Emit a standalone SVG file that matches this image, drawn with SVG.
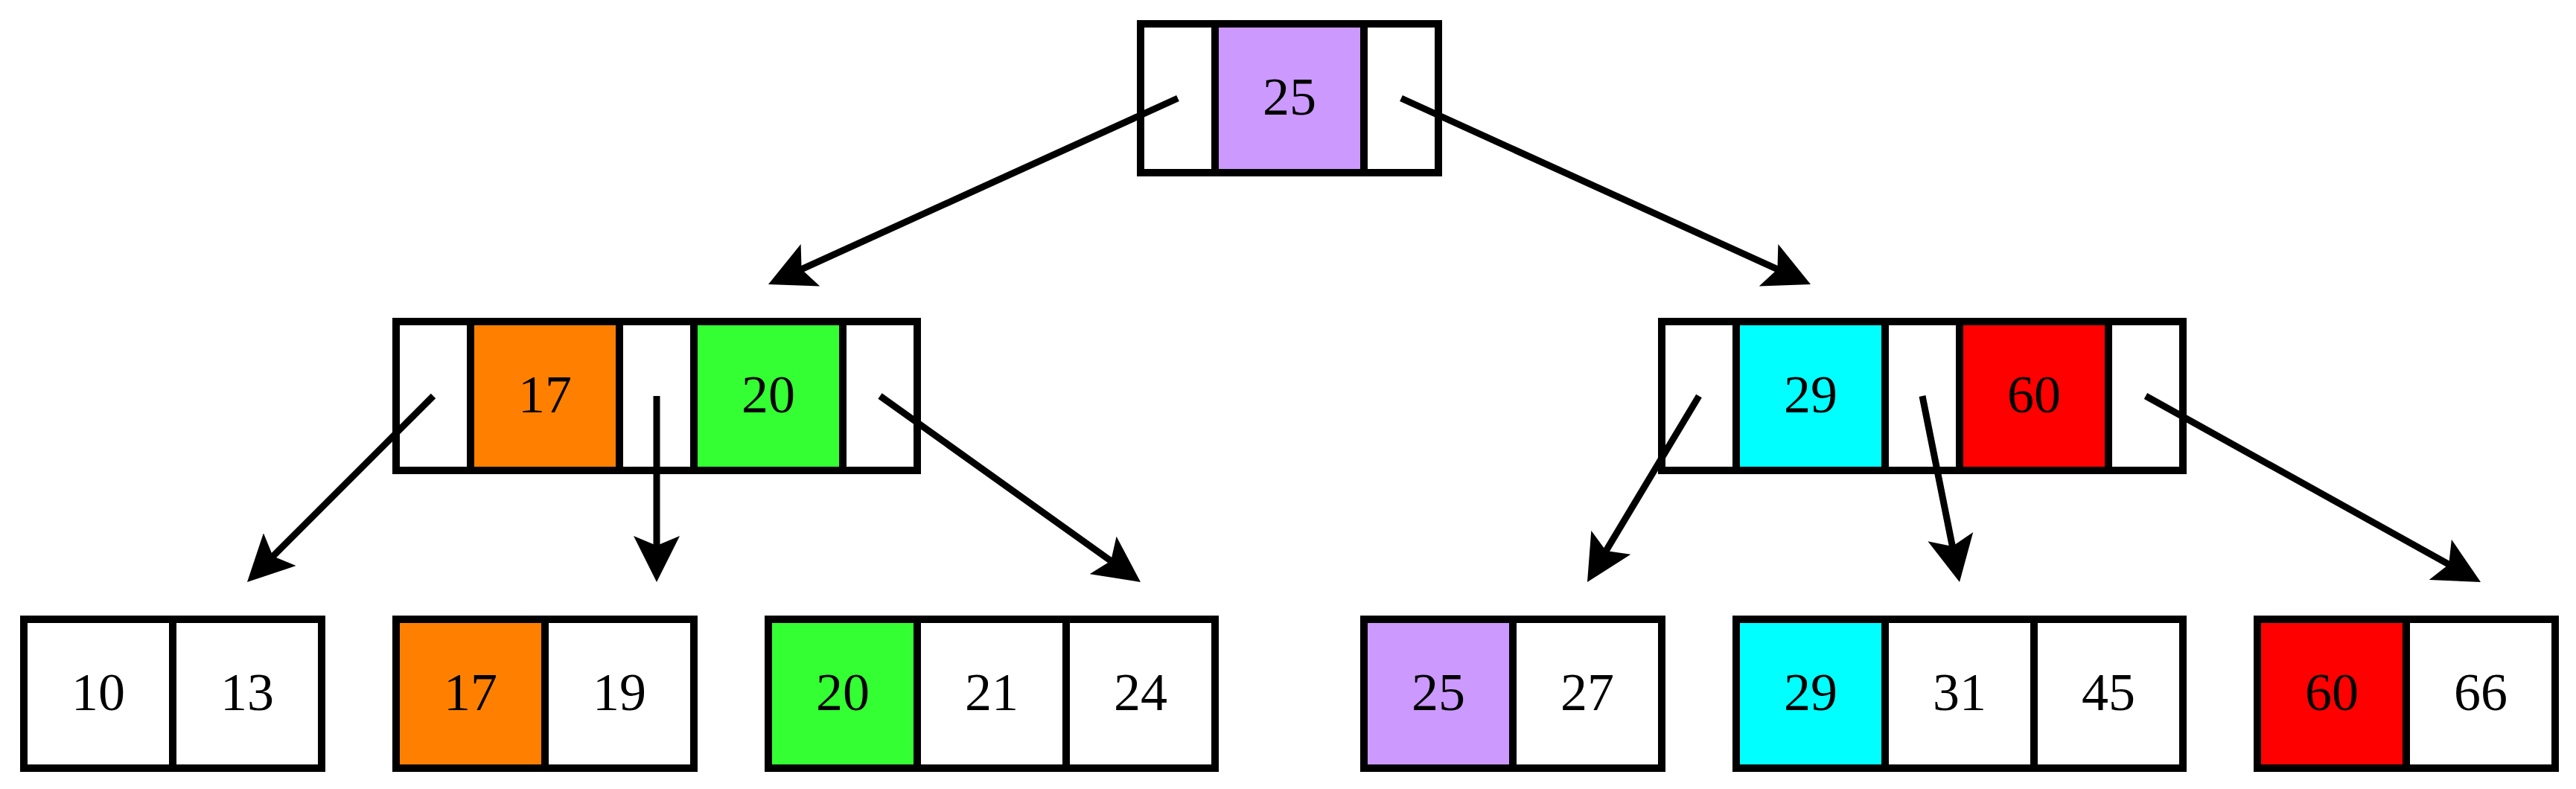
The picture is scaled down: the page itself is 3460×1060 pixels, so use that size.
<svg xmlns="http://www.w3.org/2000/svg" width="3460" height="1060" viewBox="0 0 3460 1060">
<style>
.c{stroke:#000;stroke-width:10;fill:#fff}
.p{fill:#CC99FF}.o{fill:#FF8000}.g{fill:#33FF33}.y{fill:#00FFFF}.r{fill:#FF0000}
text{font-family:"Liberation Serif","Times New Roman",serif;font-size:72px;fill:#000;text-anchor:middle}
.e{stroke:#000;stroke-width:9;fill:none;marker-end:url(#ah)}
</style>
<defs>
<marker id="ah" viewBox="0 0 62 62" refX="17" refY="31" markerWidth="62" markerHeight="62" markerUnits="userSpaceOnUse" orient="auto">
<path d="M62,31 L0,0 L13,31 L0,62 Z" fill="#000"/>
</marker>
</defs>
<rect width="3460" height="1060" fill="#fff"/>
<g id="root">
<rect class="c" x="1532" y="32" width="100" height="200"/>
<rect class="c p" x="1632" y="32" width="200" height="200"/>
<rect class="c" x="1832" y="32" width="100" height="200"/>
<text x="1732" y="154">25</text>
</g>
<g id="mid-left">
<rect class="c" x="532" y="432" width="100" height="200"/>
<rect class="c o" x="632" y="432" width="200" height="200"/>
<rect class="c" x="832" y="432" width="100" height="200"/>
<rect class="c g" x="932" y="432" width="200" height="200"/>
<rect class="c" x="1132" y="432" width="100" height="200"/>
<text x="732" y="554">17</text>
<text x="1032" y="554">20</text>
</g>
<g id="mid-right">
<rect class="c" x="2232" y="432" width="100" height="200"/>
<rect class="c y" x="2332" y="432" width="200" height="200"/>
<rect class="c" x="2532" y="432" width="100" height="200"/>
<rect class="c r" x="2632" y="432" width="200" height="200"/>
<rect class="c" x="2832" y="432" width="100" height="200"/>
<text x="2432" y="554">29</text>
<text x="2732" y="554">60</text>
</g>
<g id="leaf1">
<rect class="c" x="32" y="832" width="200" height="200"/>
<rect class="c" x="232" y="832" width="200" height="200"/>
<text x="132" y="954">10</text>
<text x="332" y="954">13</text>
</g>
<g id="leaf2">
<rect class="c o" x="532" y="832" width="200" height="200"/>
<rect class="c" x="732" y="832" width="200" height="200"/>
<text x="632" y="954">17</text>
<text x="832" y="954">19</text>
</g>
<g id="leaf3">
<rect class="c g" x="1032" y="832" width="200" height="200"/>
<rect class="c" x="1232" y="832" width="200" height="200"/>
<rect class="c" x="1432" y="832" width="200" height="200"/>
<text x="1132" y="954">20</text>
<text x="1332" y="954">21</text>
<text x="1532" y="954">24</text>
</g>
<g id="leaf4">
<rect class="c p" x="1832" y="832" width="200" height="200"/>
<rect class="c" x="2032" y="832" width="200" height="200"/>
<text x="1932" y="954">25</text>
<text x="2132" y="954">27</text>
</g>
<g id="leaf5">
<rect class="c y" x="2332" y="832" width="200" height="200"/>
<rect class="c" x="2532" y="832" width="200" height="200"/>
<rect class="c" x="2732" y="832" width="200" height="200"/>
<text x="2432" y="954">29</text>
<text x="2632" y="954">31</text>
<text x="2832" y="954">45</text>
</g>
<g id="leaf6">
<rect class="c r" x="3032" y="832" width="200" height="200"/>
<rect class="c" x="3232" y="832" width="200" height="200"/>
<text x="3132" y="954">60</text>
<text x="3332" y="954">66</text>
</g>
<g id="connectors">
<line class="e" x1="1582" y1="132" x2="1072.97" y2="363.38"/>
<line class="e" x1="1882" y1="132" x2="2391.03" y2="363.38"/>
<line class="e" x1="582" y1="532" x2="363.82" y2="750.18"/>
<line class="e" x1="882" y1="532" x2="882" y2="737"/>
<line class="e" x1="1182" y1="532" x2="1495.38" y2="755.84"/>
<line class="e" x1="2282" y1="532" x2="2155.15" y2="743.41"/>
<line class="e" x1="2582" y1="532" x2="2623.18" y2="737.87"/>
<line class="e" x1="2882" y1="532" x2="3292.66" y2="760.15"/>
</g>
</svg>
